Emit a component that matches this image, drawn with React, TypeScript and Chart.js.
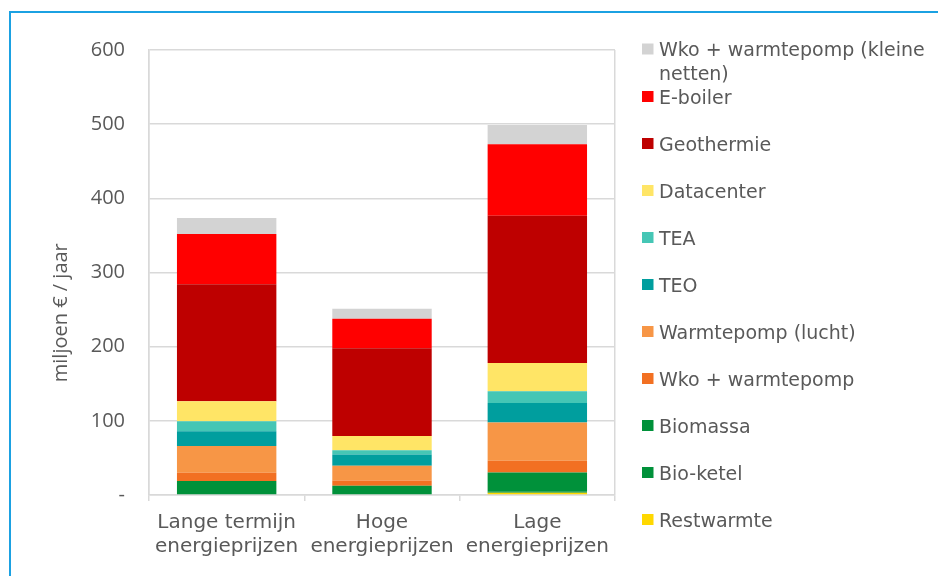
import React, { useEffect, useRef } from "react";
import { Chart, registerables } from "chart.js";

Chart.register(...registerables);

const categories: string[][] = [
  ["Lange termijn", "energieprijzen"],
  ["Hoge", "energieprijzen"],
  ["Lage", "energieprijzen"],
];

// Stack order: bottom to top
const seriesNames: string[] = [
  "Restwarmte",
  "Bio-ketel",
  "Biomassa",
  "Wko + warmtepomp",
  "Warmtepomp (lucht)",
  "TEO",
  "TEA",
  "Datacenter",
  "Geothermie",
  "E-boiler",
  "Wko + warmtepomp (kleine netten)",
];

const seriesColors: string[] = [
  "#FFD800",
  "#00913A",
  "#00913A",
  "#F27022",
  "#F79646",
  "#009E9E",
  "#45C6B5",
  "#FFE566",
  "#BE0000",
  "#FF0000",
  "#D3D3D3",
];

const restwarmte = [0, 0, 3];
const bioKetel = [0, 0, 2];
const biomassa = [19, 12.5, 25.5];
const wkoWarmtepomp = [11, 7, 15.7];
const warmtepompLucht = [36, 20, 51.6];
const teo = [20, 15, 26.4];
const tea = [13.5, 6, 15.8];
const datacenter = [27, 19, 38];
const geothermie = [157.5, 118.5, 198.4];
const eBoiler = [68, 39.5, 96.4];
const wkoKleineNetten = [21.5, 13.5, 26];

const seriesValues: number[][] = [
  restwarmte,
  bioKetel,
  biomassa,
  wkoWarmtepomp,
  warmtepompLucht,
  teo,
  tea,
  datacenter,
  geothermie,
  eBoiler,
  wkoKleineNetten,
];

const yTicks = [0, 100, 200, 300, 400, 500, 600];
const yTitle = "miljoen € / jaar";

const TEXT = "#595959";
const GRID = "#D9D9D9";

const legendPlugin = {
  id: "customLegend",
  afterDraw(chart: any) {
    const ctx = chart.ctx as CanvasRenderingContext2D;
    const ds = chart.data.datasets;
    ctx.save();
    ctx.font = "19px 'DejaVu Sans'";
    ctx.fillStyle = TEXT;
    ctx.textBaseline = "alphabetic";
    ctx.textAlign = "left";
    const items = ds.slice().reverse();
    items.forEach((d: any, i: number) => {
      let baseline: number;
      let lines: string[];
      if (i === 0) {
        baseline = 56;
        lines = ["Wko + warmtepomp (kleine", "netten)"];
      } else {
        baseline = 103.5 + (i - 1) * 47;
        lines = [d.label];
      }
      ctx.fillStyle = d.backgroundColor;
      ctx.fillRect(642, baseline - 12.5, 11.5, 11);
      ctx.fillStyle = TEXT;
      lines.forEach((l, k) => ctx.fillText(l, 659, baseline + k * 24));
    });
    // y-axis title
    ctx.translate(61, 312.7);
    ctx.rotate(-Math.PI / 2);
    ctx.font = "20px 'Open Sans'";
    ctx.textAlign = "center";
    ctx.textBaseline = "middle";
    ctx.fillText(yTitle, 0, 0);
    ctx.restore();
  },
};

function ChartView() {
  const ref = useRef<HTMLCanvasElement | null>(null);
  useEffect(() => {
    if (!ref.current) return;
    const chart = new Chart(ref.current, {
      type: "bar",
      data: {
        labels: categories as any,
        datasets: seriesNames.map((name, i) => ({
          label: name,
          data: seriesValues[i],
          backgroundColor: seriesColors[i],
          borderWidth: 0,
          barPercentage: 0.64,
          categoryPercentage: 1,
        })),
      },
      options: {
        animation: false,
        responsive: false,
        maintainAspectRatio: false,
        layout: { padding: { top: 50, left: 0, right: 323, bottom: 0 } },
        plugins: {
          legend: { display: false },
          tooltip: { enabled: false },
          title: { display: false },
        },
        scales: {
          x: {
            stacked: true,
            offset: true,
            grid: {
              offset: true,
              drawOnChartArea: true,
              color: (c: any) =>
                c.index === 0 || c.index === undefined || c.index >= 3 ? GRID : "transparent",
              tickColor: GRID,
              tickLength: 6,
              lineWidth: 1.5,
            },
            border: { display: true, color: GRID, width: 1.5 },
            ticks: {
              color: TEXT,
              font: { family: "'DejaVu Sans'", size: 20, lineHeight: 1.2 },
              padding: 10,
              maxRotation: 0,
              autoSkip: false,
            },
            afterFit: (s: any) => {
              s.height = 81;
            },
          },
          y: {
            stacked: true,
            min: 0,
            max: 600,
            afterBuildTicks: (s: any) => {
              s.ticks = yTicks.map((v) => ({ value: v }));
            },
            grid: { color: GRID, lineWidth: 1.5, drawTicks: false },
            border: { display: true, color: GRID, width: 1.5 },
            ticks: {
              color: TEXT,
              font: { family: "'Open Sans'", size: 20 },
              padding: 24,
              callback: (v: any) => (Number(v) === 0 ? "-" : String(v)),
            },
            afterFit: (s: any) => {
              s.width = 149;
            },
          },
        },
      },
      plugins: [legendPlugin],
    });
    return () => chart.destroy();
  }, []);
  return <canvas ref={ref} width={938} height={576} style={{ display: "block" }} />;
}

export default function App() {
  return (
    <div
      style={{
        position: "fixed",
        left: 0,
        top: 0,
        width: 938,
        height: 576,
        background: "#fff",
        overflow: "hidden",
      }}
    >
      <ChartView />
      <div
        style={{
          position: "absolute",
          left: 9,
          top: 11,
          width: 940,
          height: 580,
          borderLeft: "2px solid #1BA1E2",
          borderTop: "2px solid #1BA1E2",
          pointerEvents: "none",
        }}
      />
    </div>
  );
}
